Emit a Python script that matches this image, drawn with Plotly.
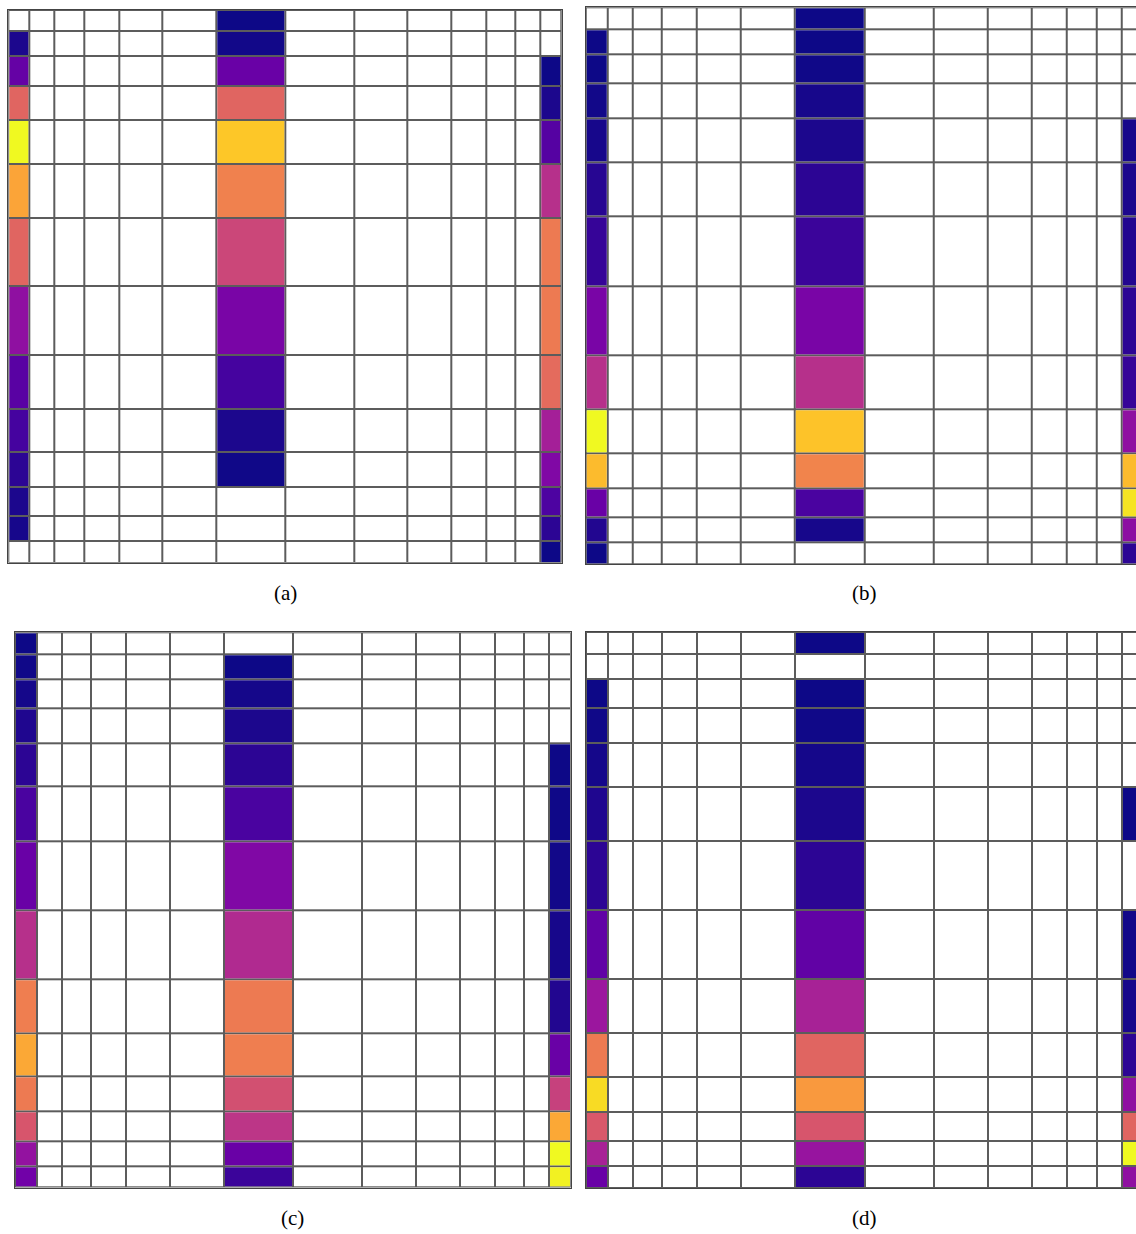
import plotly.graph_objects as go

# Grid cell edges (shared by rows and columns, normalised 0..1)
edges = [0.0, 0.0388, 0.0838, 0.1370, 0.1999, 0.2782, 0.3756, 0.5,
         0.6244, 0.7218, 0.8001, 0.8630, 0.9162, 0.9612, 1.0]
n_cells = 14
filled_cols = [0, 6, 13]   # columns that hold values (first, middle, last)

N = None
# Panel (a) values, top row -> bottom row
a_first = [N, 0.03, 0.19, 0.60, 1.00, 0.79, 0.60, 0.30, 0.16, 0.11, 0.06, 0.03, 0.02, N]
a_mid   = [0.00, 0.01, 0.20, 0.60, 0.88, 0.69, 0.50, 0.24, 0.11, 0.03, 0.005, N, N, N]
a_last  = [N, N, 0.00, 0.03, 0.15, 0.42, 0.67, 0.67, 0.62, 0.36, 0.26, 0.13, 0.06, 0.00]
# Panel (b)
b_first = [N, 0.00, 0.00, 0.01, 0.02, 0.05, 0.08, 0.24, 0.42, 1.00, 0.85, 0.20, 0.04, 0.00]
b_mid   = [0.00, 0.00, 0.005, 0.02, 0.03, 0.06, 0.09, 0.24, 0.42, 0.87, 0.70, 0.12, 0.02, N]
b_last  = [N, N, N, N, 0.02, 0.03, 0.04, 0.06, 0.08, 0.30, 0.85, 0.95, 0.29, 0.06]
# Panel (c)
c_first = [0.00, 0.005, 0.015, 0.035, 0.06, 0.12, 0.20, 0.42, 0.68, 0.80, 0.67, 0.55, 0.31, 0.22]
c_mid   = [N, 0.00, 0.015, 0.03, 0.06, 0.12, 0.26, 0.40, 0.67, 0.68, 0.53, 0.44, 0.20, 0.09]
c_last  = [N, N, N, N, 0.00, 0.003, 0.01, 0.02, 0.04, 0.20, 0.48, 0.80, 1.00, 0.98]
# Panel (d)
d_first = [N, N, 0.00, 0.005, 0.015, 0.035, 0.06, 0.18, 0.33, 0.67, 0.93, 0.56, 0.37, 0.20]
d_mid   = [0.00, N, 0.00, 0.005, 0.015, 0.03, 0.06, 0.18, 0.37, 0.60, 0.76, 0.55, 0.32, 0.06]
d_last  = [N, N, N, N, N, 0.00, N, 0.01, 0.02, 0.06, 0.30, 0.60, 1.00, 0.30]

captions = ["(a)", "(b)", "(c)", "(d)"]
panels = [(a_first, a_mid, a_last), (b_first, b_mid, b_last),
          (c_first, c_mid, c_last), (d_first, d_mid, d_last)]

W, H = 1136, 1234
# pixel boxes of each grid: left, right(full), top, bottom
boxes = [(8.3, 561.7, 10.0, 562.7),
         (585.7, 1143.3, 7.3, 564.3),
         (15.0, 570.7, 632.3, 1187.5),
         (586.0, 1143.5, 632.0, 1188.0)]
cap_pos = [(285, 593), (864, 593), (292, 1218), (864, 1218)]


def build_z(cols):
    z = [[None] * n_cells for _ in range(n_cells)]
    for ci, col in zip(filled_cols, cols):
        for r, v in enumerate(col):
            z[r][ci] = v
    return z


fig = go.Figure()
gap = 2
for i, cols in enumerate(panels):
    xa = "x" if i == 0 else f"x{i+1}"
    ya = "y" if i == 0 else f"y{i+1}"
    base = [[1] * n_cells for _ in range(n_cells)]
    fig.add_trace(go.Heatmap(z=base, x=edges, y=edges, xaxis=xa, yaxis=ya,
                             colorscale=[[0, "white"], [1, "white"]],
                             showscale=False, xgap=gap, ygap=gap, hoverinfo="skip"))
    fig.add_trace(go.Heatmap(z=build_z(cols), x=edges, y=edges, xaxis=xa, yaxis=ya,
                             colorscale="Plasma", zmin=0, zmax=1,
                             showscale=False, xgap=gap, ygap=gap, hoverinfo="skip"))

layout = dict(width=W, height=H, margin=dict(l=0, r=0, t=0, b=0),
              paper_bgcolor="white", plot_bgcolor="#5c5c5c", showlegend=False)
for i, (l, r, t, b) in enumerate(boxes):
    full = r - l
    right = min(r, W)
    xr = (right - l) / full
    xkey = "xaxis" if i == 0 else f"xaxis{i+1}"
    ykey = "yaxis" if i == 0 else f"yaxis{i+1}"
    yname = "y" if i == 0 else f"y{i+1}"
    xname = "x" if i == 0 else f"x{i+1}"
    layout[xkey] = dict(domain=[l / W, right / W], range=[0, xr * 1.0],
                        anchor=yname, showticklabels=False, ticks="",
                        showgrid=False, zeroline=False, showline=True,
                        linecolor="#444", linewidth=1, mirror=True)
    layout[ykey] = dict(domain=[1 - b / H, 1 - t / H], range=[1, 0],
                        anchor=xname, showticklabels=False, ticks="",
                        showgrid=False, zeroline=False, showline=True,
                        linecolor="#444", linewidth=1, mirror=(r <= W))

annotations = []
for (cx, cy), txt in zip(cap_pos, captions):
    annotations.append(dict(x=cx / W, y=1 - cy / H, xref="paper", yref="paper",
                            text=txt, showarrow=False, xanchor="center", yanchor="middle",
                            font=dict(family="Liberation Serif", size=21, color="black")))
layout["annotations"] = annotations
fig.update_layout(**layout)

fig.write_html("out.html")
